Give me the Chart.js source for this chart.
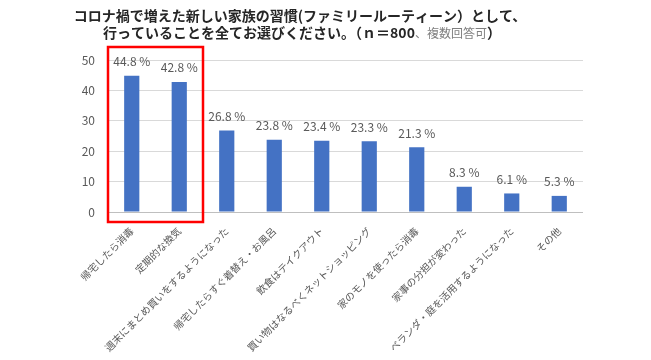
<!DOCTYPE html>
<html>
<head>
<meta charset="utf-8">
<script src="https://cdn.jsdelivr.net/npm/chart.js@4"></script>
<style>
  body { margin: 0; background: #fff; }
</style>
</head>
<body>
<canvas id="grafico" width="651" height="360"></canvas>
<script>
const categorias = ['帰宅したら消毒', '定期的な換気', '週末にまとめ買いをするようになった', '帰宅したらすぐ着替え・お風呂',
  '飲食はテイクアウト', '買い物はなるべくネットショッピング', '家のモノを使ったら消毒', '家事の分担が変わった',
  'ベランダ・庭を活用するようになった', 'その他']
const valores = [44.8, 42.8, 26.8, 23.8, 23.4, 23.3, 21.3, 8.3, 6.1, 5.3]
const ticksY = [0, 10, 20, 30, 40, 50]
const titulo1 = 'コロナ禍で増えた新しい家族の習慣(ファミリールーティーン）として、'
const titulo2 = ['行っていることを全てお選びください。（ｎ＝800', '、複数回答可', '）']

const fuente = "'Noto Sans CJK JP', 'Noto Sans', sans-serif"

//titulo con partes de distinto estilo
const tituloPlugin = {
  id: 'tituloPlugin',
  afterDraw(chart){
    const {ctx} = chart
    ctx.save()
    ctx.textBaseline = 'middle'
    ctx.textAlign = 'left'
    ctx.fillStyle = '#262626'
    ctx.font = 'bold 14px ' + fuente
    let w = ctx.measureText(titulo1).width
    ctx.fillText(titulo1, 300 - w / 2, 16)

    const estilos = [
      {font: 'bold 14px ' + fuente, color: '#262626'},
      {font: '12px ' + fuente, color: '#7f7f7f'},
      {font: 'bold 14px ' + fuente, color: '#262626'}
    ]
    let total = 0
    titulo2.forEach((t, i) => { ctx.font = estilos[i].font; total += ctx.measureText(t).width })
    let x = 302 - total / 2
    titulo2.forEach((t, i) => {
      ctx.font = estilos[i].font
      ctx.fillStyle = estilos[i].color
      ctx.fillText(t, x, 33)
      x += ctx.measureText(t).width
    })
    ctx.restore()
  }
}

//etiquetas de porcentaje encima de las barras
const etiquetas = {
  id: 'etiquetas',
  afterDatasetsDraw(chart){
    const {ctx} = chart
    const meta = chart.getDatasetMeta(0)
    ctx.save()
    ctx.font = '12px ' + fuente
    ctx.fillStyle = '#595959'
    ctx.textAlign = 'center'
    ctx.textBaseline = 'middle'
    meta.data.forEach((bar, i) => {
      ctx.fillText(valores[i].toFixed(1) + ' %', bar.x, bar.y - 14)
    })
    ctx.restore()
  }
}

//recuadro rojo sobre las dos primeras barras
const recuadro = {
  id: 'recuadro',
  afterDatasetsDraw(chart){
    const {ctx, scales: {x, y}} = chart
    const paso = x.getPixelForValue(1) - x.getPixelForValue(0)
    const izq = x.getPixelForValue(0) - paso / 2
    const der = x.getPixelForValue(1) + paso / 2
    const arriba = y.getPixelForValue(50) - 13
    const abajo = y.getPixelForValue(0) + 10
    ctx.save()
    ctx.strokeStyle = '#ff0000'
    ctx.lineWidth = 2.5
    ctx.strokeRect(izq, arriba, der - izq, abajo - arriba)
    ctx.restore()
  }
}

const config = {
  type: 'bar',
  data: {
    labels: categorias,
    datasets: [{
      data: valores,
      backgroundColor: '#4472c4',
      categoryPercentage: 1,
      barPercentage: 0.32
    }]
  },
  options: {
    responsive: false,
    devicePixelRatio: 1,
    animation: false,
    layout: {padding: {top: 60, right: 68, left: 0, bottom: 0}},
    plugins: {
      legend: {display: false},
      tooltip: {enabled: false}
    },
    scales: {
      x: {
        grid: {display: false},
        border: {display: false},
        ticks: {
          autoSkip: false,
          minRotation: 45,
          maxRotation: 45,
          padding: 5,
          color: '#595959',
          font: {size: 10, family: fuente}
        },
        afterFit(s){ s.height = 148 }
      },
      y: {
        min: 0,
        max: 50,
        afterBuildTicks(s){ s.ticks = ticksY.map(v => ({value: v})) },
        grid: {
          color: (c) => c.tick && c.tick.value === 0 ? '#bfbfbf' : '#d9d9d9',
          drawTicks: false
        },
        border: {display: false},
        ticks: {
          padding: 13,
          color: '#595959',
          font: {size: 12, family: fuente}
        },
        afterFit(s){ s.width = 108 }
      }
    }
  },
  plugins: [tituloPlugin, etiquetas, recuadro]
}

new Chart(document.getElementById('grafico'), config)
</script>
</body>
</html>
